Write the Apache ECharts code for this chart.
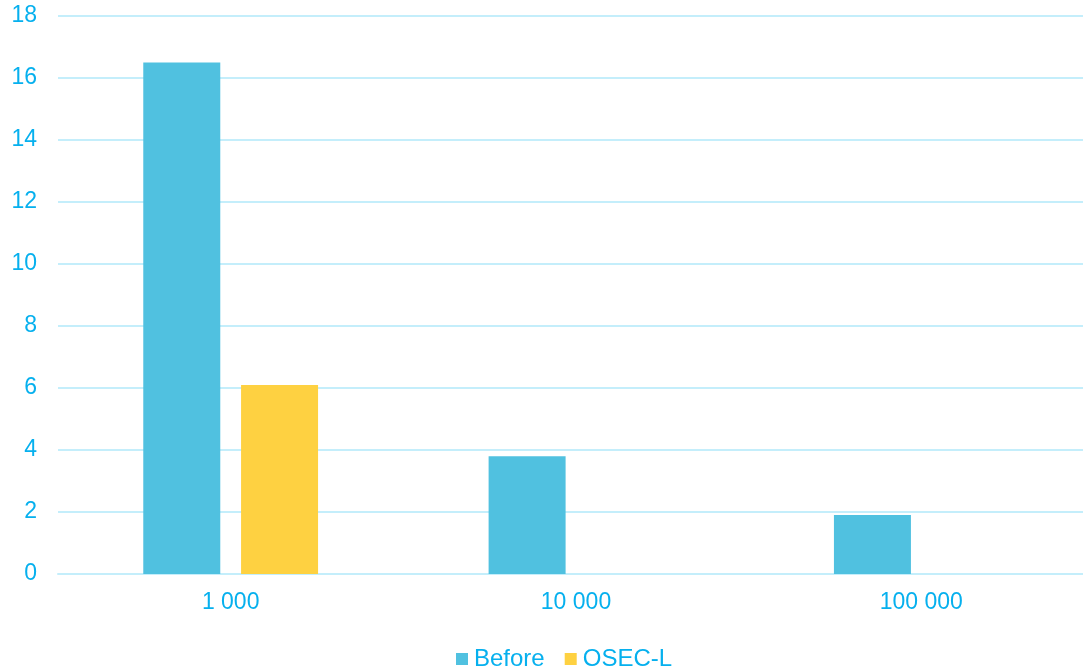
<!DOCTYPE html>
<html><head><meta charset="utf-8">
<script src="https://cdn.jsdelivr.net/npm/echarts@6/dist/echarts.min.js"></script>
<style>html,body{margin:0;padding:0;background:#fff;overflow:hidden;width:1083px;height:667px}#c{width:1094px;height:667px}</style>
</head><body><div id="c"></div>
<script>
const categories = ['1 000', '10 000', '100 000'];
const beforeValues = [16.5, 3.8, 1.9];
const osecValues = [6.1, null, null];
const yTicks = { min: 0, max: 18, interval: 2 };

const textColor = '#06B0EE';
const gridColor = '#C4EEFB';
const font = 'Liberation Sans, Arial, sans-serif';

const chart = echarts.init(document.getElementById('c'));
chart.setOption({
  animation: false,
  backgroundColor: '#fff',
  grid: { left: 58, top: 16, right: 0, bottom: 93, containLabel: false },
  legend: {
    left: 451, top: 642,
    itemWidth: 12, itemHeight: 12, itemGap: 20,
    icon: 'rect',
    textStyle: { color: textColor, fontSize: 24, fontFamily: font, padding: [0,0,0,1] },
    data: ['Before', 'OSEC-L']
  },
  xAxis: {
    type: 'category', data: categories,
    axisLine: { show: true, lineStyle: { color: gridColor, width: 2 } },
    axisTick: { show: false },
    axisLabel: { color: textColor, fontSize: 23, fontFamily: font, margin: 17 }
  },
  yAxis: {
    type: 'value', min: yTicks.min, max: yTicks.max, interval: yTicks.interval,
    axisLine: { show: false }, axisTick: { show: false },
    splitLine: { lineStyle: { color: gridColor, width: 2 } },
    axisLabel: { color: textColor, fontSize: 23, fontFamily: font, margin: 21 }
  },
  series: [
    { name: 'Before', type: 'bar', data: beforeValues, barWidth: 77, barGap: '27%',
      itemStyle: { color: '#50C1E0' } },
    { name: 'OSEC-L', type: 'bar', data: osecValues, barWidth: 77,
      itemStyle: { color: '#FED141' } }
  ]
});
</script></body></html>
